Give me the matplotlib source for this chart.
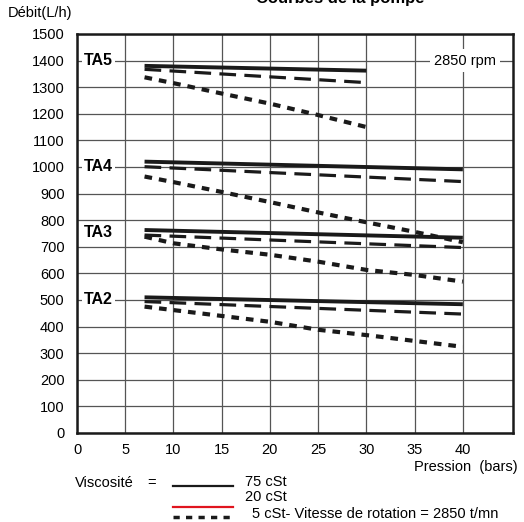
import numpy as np
import matplotlib.pyplot as plt
import matplotlib.lines as mlines

plt.rcParams['font.family'] = ['Liberation Sans', 'DejaVu Sans']
plt.rcParams['lines.scale_dashes'] = False

# data (pression in bars, debit in L/h)
pumps = ['TA5', 'TA4', 'TA3', 'TA2']
label_y = [1400, 1000, 755, 500]
x_end = {'TA5': 30, 'TA4': 40, 'TA3': 40, 'TA2': 40}

solid_75 = {'TA5': [1380, 1362], 'TA4': [1020, 991], 'TA3': [763, 734], 'TA2': [510, 484]}
dash_20 = {'TA5': [1367, 1317], 'TA4': [1001, 945], 'TA3': [744, 697], 'TA2': [494, 447]}

dot_x = {'TA5': [7, 10, 15, 20, 25, 30],
         'TA4': [7, 10, 15, 20, 25, 30, 35, 40],
         'TA3': [7, 10, 15, 20, 25, 30, 35, 40],
         'TA2': [7, 10, 15, 20, 25, 30, 35, 40]}
dot_5 = {'TA5': [1337, 1315, 1276, 1238, 1195, 1150],
         'TA4': [964, 943, 906, 868, 829, 792, 756, 717],
         'TA3': [738, 713, 690, 670, 644, 613, 594, 569],
         'TA2': [475, 462, 440, 418, 388, 368, 346, 324]}

fig = plt.figure(figsize=(5.24, 5.22), dpi=100)
ax = fig.add_axes([0.147, 0.1705, 0.832, 0.7645])

for p in pumps:
    xs = [7, x_end[p]]
    ax.plot(xs, solid_75[p], color='#1a1a1a', lw=2.8, solid_capstyle='butt', zorder=4)
    ax.plot(xs, dash_20[p], color='#1a1a1a', lw=2.3, linestyle=(0, (12, 6)), zorder=4)
    ax.plot(dot_x[p], dot_5[p], color='#1a1a1a', lw=3.0, linestyle=(0, (5.5, 5)), zorder=4)

ax.set_xlim(0, 45.2)
ax.set_ylim(0, 1500)
ax.set_xticks(np.arange(0, 45, 5))
ax.set_yticks(np.arange(0, 1600, 100))
ax.grid(True, color='#555555', lw=0.9)
ax.tick_params(length=0, labelsize=10.5, pad=9)
ax.tick_params(axis='x', pad=7)
for s in ax.spines.values():
    s.set_linewidth(1.8)
    s.set_color('#1a1a1a')

for p, y in zip(pumps, label_y):
    ax.text(0.7, y, p, fontsize=11.5, fontweight='bold', va='center', ha='left', zorder=5,
            bbox=dict(facecolor='white', edgecolor='none', pad=1.5))

ax.text(40.2, 1400, '2850 rpm', fontsize=10.5, va='center', ha='center', zorder=5,
        bbox=dict(facecolor='white', edgecolor='none', pad=3))

fig.text(0.015, 0.975, 'Débit(L/h)', fontsize=10.5, va='center', ha='left')
# title is cut by the top edge, as in the scan: only the descenders show
fig.text(0.65, 0.995, 'Courbes de la pompe', fontsize=12, fontweight='bold', va='baseline', ha='center')
fig.text(0.987, 0.105, 'Pression  (bars)', fontsize=10.5, va='center', ha='right')

fig.text(0.143, 0.075, 'Viscosité', fontsize=10.5, va='center', ha='left')
fig.text(0.29, 0.075, '=', fontsize=10.5, va='center', ha='center')
leg_x = [0.33, 0.445]
fig.add_artist(mlines.Line2D(leg_x, [0.069, 0.069], color='#1a1a1a', lw=1.6))
fig.add_artist(mlines.Line2D(leg_x, [0.029, 0.029], color='#e0141e', lw=1.6))
fig.add_artist(mlines.Line2D(leg_x, [0.01, 0.01], color='#1a1a1a', lw=2.5, linestyle=(0, (4.5, 4.5))))
fig.text(0.468, 0.077, '75 cSt', fontsize=10.5, va='center', ha='left')
fig.text(0.468, 0.048, '20 cSt', fontsize=10.5, va='center', ha='left')
fig.text(0.481, 0.015, '5 cSt- Vitesse de rotation = 2850 t/mn', fontsize=10.5, va='center', ha='left')

fig.savefig('out.png', dpi=100)
